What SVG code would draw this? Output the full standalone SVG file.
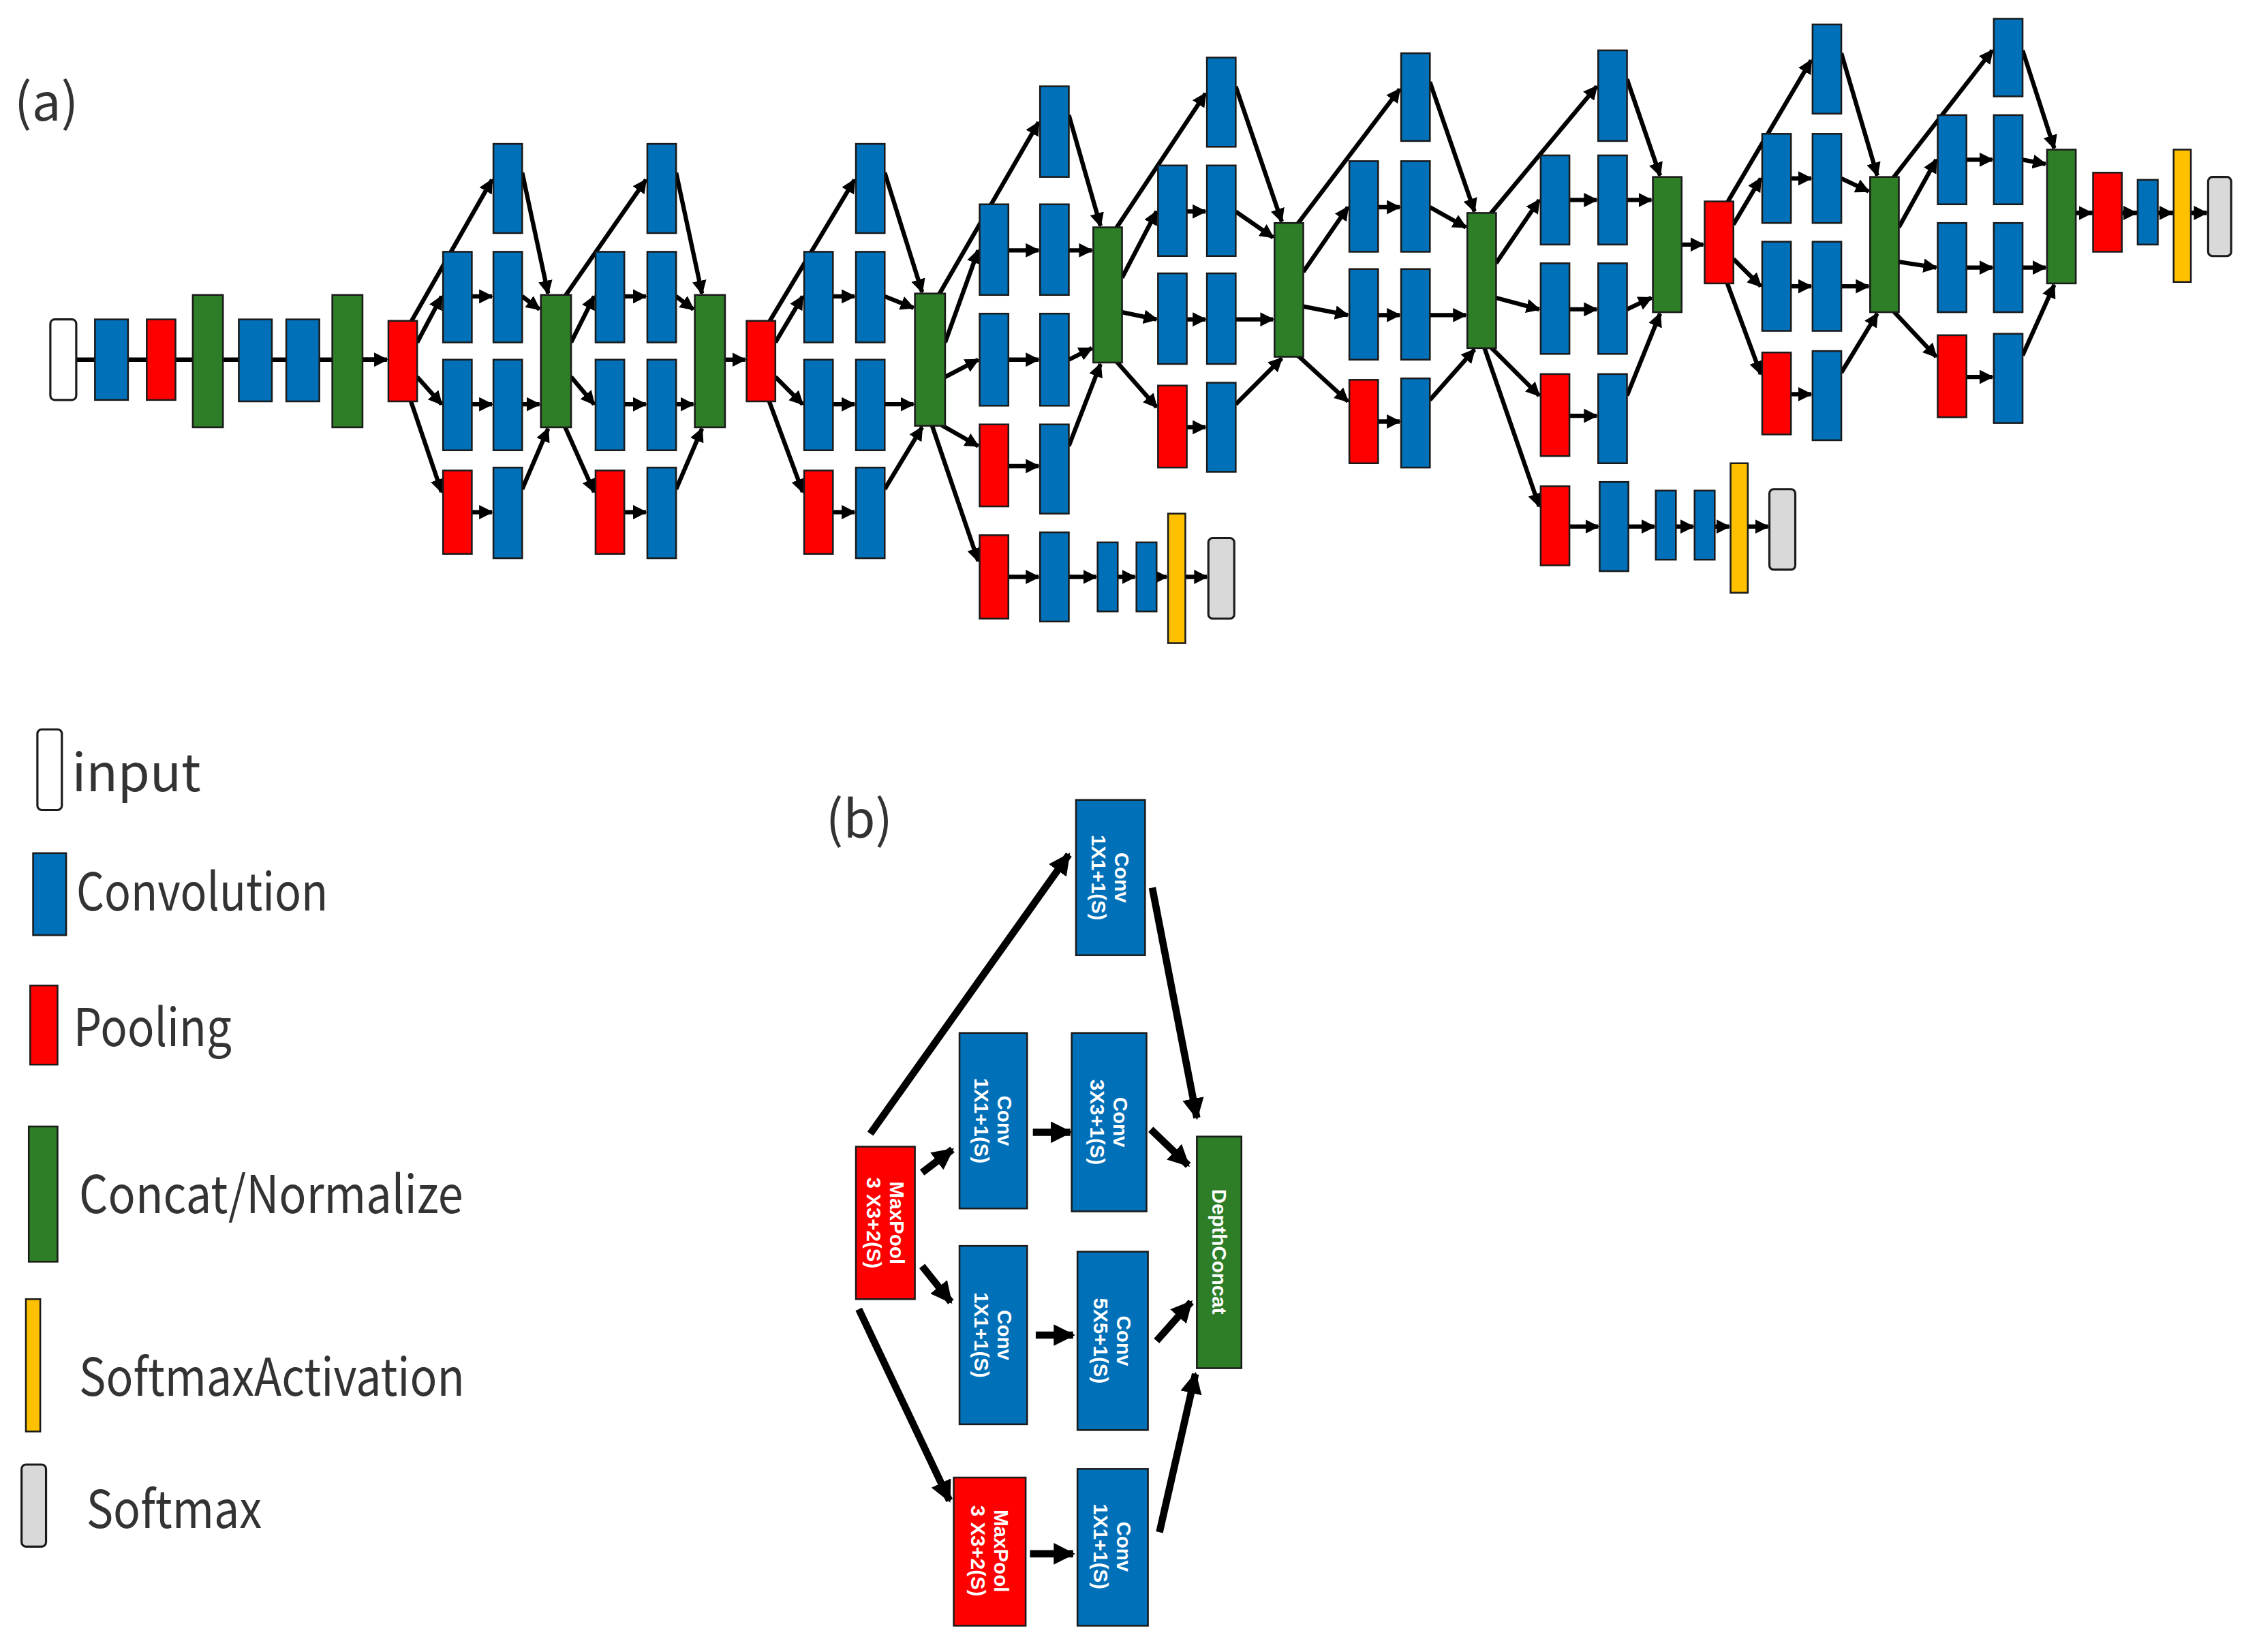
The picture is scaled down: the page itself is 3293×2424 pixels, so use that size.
<svg xmlns="http://www.w3.org/2000/svg" width="3293" height="2424" viewBox="0 0 3293 2424">
<defs>
<marker id="ah" viewBox="0 0 10 10" refX="9" refY="5" markerWidth="3.3" markerHeight="3.3" orient="auto" markerUnits="strokeWidth"><path d="M0,0 L10,5 L0,10 z" fill="#000"/></marker>
<marker id="ahb" viewBox="0 0 10 10" refX="9" refY="5" markerWidth="3" markerHeight="3" orient="auto" markerUnits="strokeWidth"><path d="M0,0 L10,5 L0,10 z" fill="#000"/></marker>
</defs>
<style>
.b{fill:#0070b8;stroke:#1a1a1a;stroke-width:1.2}
.r{fill:#ff0000;stroke:#1a1a1a;stroke-width:1.2}
.g{fill:#2e7d27;stroke:#1a1a1a;stroke-width:1.2}
.y{fill:#ffc000;stroke:#1a1a1a;stroke-width:1.2}
.s{fill:#d9d9d9;stroke:#1a1a1a;stroke-width:1.5}
.w{fill:#fff;stroke:#1a1a1a;stroke-width:1.5}
.c path{fill:none;stroke:#000;stroke-width:3;marker-end:url(#ah)}
.c path.n{marker-end:none}
.cb path{fill:none;stroke:#000;stroke-width:5;marker-end:url(#ahb)}
.lt{font-family:"Noto Sans CJK JP","Liberation Sans",sans-serif;font-size:36px;fill:#333}
.bt{font-family:"Liberation Sans",sans-serif;font-weight:bold;font-size:14px;fill:#fff;text-anchor:middle}
</style>
<rect width="3293" height="2424" fill="#fff"/>
<g transform="scale(2.111)">
<text class="lt" x="10" y="84">(a)</text>
<g id="connectors-a" class="c">
<path class="n" d="M53,250 H260"/><path d="M252,250 H269"/>
<path d="M504,250 H518"/>
<path d="M1169,170 H1184"/>
<path class="n" d="M1443,148 H1534"/><path d="M1443,148 H1454"/><path d="M1475,148 H1485"/><path d="M1500,148 H1510"/><path d="M1523,148 H1534"/>
<path d="M648,296 L680,390"/>
<path d="M701,401 H722"/><path d="M743,401 H762"/><path d="M777,401 H789"/><path d="M804,401 H811"/><path d="M824,401 H839"/>
<path d="M1032,242 L1070,352"/>
<path d="M1091,366 H1111"/><path d="M1132,366 H1150"/><path d="M1165,366 H1177"/><path d="M1192,366 H1202"/><path d="M1215,366 H1229"/>
<!-- B1 -->
<path d="M285,225 L342,125"/><path d="M290,238 L307,206"/><path d="M290,262 L307,281"/><path d="M285,277 L307,342"/>
<path d="M328,206 H342"/><path d="M328,281 H342"/><path d="M328,356 H342"/>
<path d="M363,120 L381,204"/><path d="M363,206 L375,215"/><path d="M363,281 H375"/><path d="M363,340 L381,298"/>
<!-- B2 -->
<path d="M392,207 L449,125"/><path d="M397,238 L413,206"/><path d="M397,262 L413,281"/><path d="M392,295 L413,342"/>
<path d="M434,206 H449"/><path d="M434,281 H449"/><path d="M434,356 H449"/>
<path d="M470,120 L488,204"/><path d="M470,206 L482,215"/><path d="M470,281 H482"/><path d="M470,340 L488,298"/>
<!-- B3 -->
<path d="M534,225 L594,125"/><path d="M539,238 L558,206"/><path d="M539,262 L558,281"/><path d="M534,277 L558,342"/>
<path d="M579,206 H594"/><path d="M579,281 H594"/><path d="M579,356 H594"/>
<path d="M615,120 L641,203"/><path d="M615,206 L635,214"/><path d="M615,281 H635"/><path d="M615,340 L641,297"/>
<!-- B4 -->
<path d="M652,206 L722,85"/><path d="M657,238 L680,174"/><path d="M657,262 L680,250"/><path d="M652,294 L680,310"/>
<path d="M701,174 H722"/><path d="M701,250 H722"/><path d="M701,324 H722"/>
<path d="M743,80 L765,157"/><path d="M743,174 H759"/><path d="M743,250 L759,242"/><path d="M743,310 L765,253"/>
<!-- B5 -->
<path d="M775,160 L838,65"/><path d="M780,193 L804,147"/><path d="M780,217 L804,222"/><path d="M775,250 L804,283"/>
<path d="M825,147 H838"/><path d="M825,222 H838"/><path d="M825,297 H838"/>
<path d="M859,60 L891,154"/><path d="M859,147 L885,165"/><path d="M859,222 H885"/><path d="M859,281 L891,249"/>
<!-- B6 -->
<path d="M901,157 L973,62"/><path d="M906,189 L937,144"/><path d="M906,213 L937,219"/><path d="M901,246 L937,279"/>
<path d="M958,144 H973"/><path d="M958,219 H973"/><path d="M958,293 H973"/>
<path d="M994,57 L1025,147"/><path d="M994,144 L1019,158"/><path d="M994,219 H1019"/><path d="M994,278 L1025,243"/>
<!-- B7 -->
<path d="M1035,150 L1110,60"/><path d="M1040,183 L1070,139"/><path d="M1040,207 L1070,215"/><path d="M1035,240 L1070,275"/>
<path d="M1091,139 H1110"/><path d="M1091,215 H1110"/><path d="M1091,289 H1110"/>
<path d="M1131,55 L1154,122"/><path d="M1131,139 H1148"/><path d="M1131,215 L1148,207"/><path d="M1131,275 L1154,218"/>
<!-- B8 -->
<path d="M1200,142 L1259,42"/><path d="M1205,156 L1224,124"/><path d="M1205,180 L1224,199"/><path d="M1200,195 L1224,260"/>
<path d="M1245,124 H1259"/><path d="M1245,199 H1259"/><path d="M1245,274 H1259"/>
<path d="M1280,37 L1305,122"/><path d="M1280,124 L1299,133"/><path d="M1280,199 H1299"/><path d="M1280,259 L1305,218"/>
<!-- B9 -->
<path d="M1315,125 L1385,35"/><path d="M1320,158 L1346,111"/><path d="M1320,182 L1346,186"/><path d="M1315,215 L1346,248"/>
<path d="M1367,111 H1385"/><path d="M1367,186 H1385"/><path d="M1367,262 H1385"/>
<path d="M1406,35 L1428,103"/><path d="M1406,111 L1422,114"/><path d="M1406,186 H1422"/><path d="M1406,247 L1428,198"/>
</g>
<g id="stem">
<rect class="w" x="35" y="222" width="18" height="56" rx="3"/>
<rect class="b" x="66" y="222" width="23" height="56"/>
<rect class="r" x="102" y="222" width="20" height="56"/>
<rect class="g" x="134" y="205" width="21" height="92"/>
<rect class="b" x="166" y="222" width="23" height="57"/>
<rect class="b" x="199" y="222" width="23" height="57"/>
<rect class="g" x="231" y="205" width="21" height="92"/>
<rect class="r" x="270" y="223" width="20" height="56"/>
</g>
<g id="inception-3a">
<rect class="b" x="343" y="100" width="20" height="62"/>
<rect class="b" x="308" y="175" width="20" height="63"/><rect class="b" x="343" y="175" width="20" height="63"/>
<rect class="b" x="308" y="250" width="20" height="63"/><rect class="b" x="343" y="250" width="20" height="63"/>
<rect class="r" x="308" y="327" width="20" height="58"/><rect class="b" x="343" y="325" width="20" height="63"/>
<rect class="g" x="376" y="205" width="21" height="92"/>
</g>
<g id="inception-3b">
<rect class="b" x="450" y="100" width="20" height="62"/>
<rect class="b" x="414" y="175" width="20" height="63"/><rect class="b" x="450" y="175" width="20" height="63"/>
<rect class="b" x="414" y="250" width="20" height="63"/><rect class="b" x="450" y="250" width="20" height="63"/>
<rect class="r" x="414" y="327" width="20" height="58"/><rect class="b" x="450" y="325" width="20" height="63"/>
<rect class="g" x="483" y="205" width="21" height="92"/>
</g>
<g id="pool-3"><rect class="r" x="519" y="223" width="20" height="56"/></g>
<g id="inception-4a">
<rect class="b" x="595" y="100" width="20" height="62"/>
<rect class="b" x="559" y="175" width="20" height="63"/><rect class="b" x="595" y="175" width="20" height="63"/>
<rect class="b" x="559" y="250" width="20" height="63"/><rect class="b" x="595" y="250" width="20" height="63"/>
<rect class="r" x="559" y="327" width="20" height="58"/><rect class="b" x="595" y="325" width="20" height="63"/>
<rect class="g" x="636" y="204" width="21" height="92"/>
</g>
<g id="aux-1">
<rect class="r" x="681" y="372" width="20" height="58"/>
<rect class="b" x="723" y="370" width="20" height="62"/>
<rect class="b" x="763" y="377" width="14" height="48"/>
<rect class="b" x="790" y="377" width="14" height="48"/>
<rect class="y" x="812" y="357" width="12" height="90"/>
<rect class="s" x="840" y="374" width="18" height="56" rx="3"/>
</g>
<g id="inception-4b">
<rect class="b" x="723" y="60" width="20" height="63"/>
<rect class="b" x="681" y="142" width="20" height="63"/><rect class="b" x="723" y="142" width="20" height="63"/>
<rect class="b" x="681" y="218" width="20" height="64"/><rect class="b" x="723" y="218" width="20" height="64"/>
<rect class="r" x="681" y="295" width="20" height="57"/><rect class="b" x="723" y="295" width="20" height="62"/>
<rect class="g" x="760" y="158" width="20" height="94"/>
</g>
<g id="inception-4c">
<rect class="b" x="839" y="40" width="20" height="62"/>
<rect class="b" x="805" y="115" width="20" height="63"/><rect class="b" x="839" y="115" width="20" height="63"/>
<rect class="b" x="805" y="190" width="20" height="63"/><rect class="b" x="839" y="190" width="20" height="63"/>
<rect class="r" x="805" y="268" width="20" height="57"/><rect class="b" x="839" y="266" width="20" height="62"/>
<rect class="g" x="886" y="155" width="20" height="93"/>
</g>
<g id="inception-4d">
<rect class="b" x="974" y="37" width="20" height="61"/>
<rect class="b" x="938" y="112" width="20" height="63"/><rect class="b" x="974" y="112" width="20" height="63"/>
<rect class="b" x="938" y="187" width="20" height="63"/><rect class="b" x="974" y="187" width="20" height="63"/>
<rect class="r" x="938" y="264" width="20" height="58"/><rect class="b" x="974" y="263" width="20" height="62"/>
<rect class="g" x="1020" y="148" width="20" height="94"/>
</g>
<g id="aux-2">
<rect class="r" x="1071" y="338" width="20" height="55"/>
<rect class="b" x="1112" y="335" width="20" height="62"/>
<rect class="b" x="1151" y="341" width="14" height="48"/>
<rect class="b" x="1178" y="341" width="14" height="48"/>
<rect class="y" x="1203" y="322" width="12" height="90"/>
<rect class="s" x="1230" y="340" width="18" height="56" rx="3"/>
</g>
<g id="inception-4e">
<rect class="b" x="1111" y="35" width="20" height="63"/>
<rect class="b" x="1071" y="108" width="20" height="62"/><rect class="b" x="1111" y="108" width="20" height="62"/>
<rect class="b" x="1071" y="183" width="20" height="63"/><rect class="b" x="1111" y="183" width="20" height="63"/>
<rect class="r" x="1071" y="260" width="20" height="57"/><rect class="b" x="1111" y="260" width="20" height="62"/>
<rect class="g" x="1149" y="123" width="20" height="94"/>
</g>
<g id="pool-4"><rect class="r" x="1185" y="140" width="20" height="57"/></g>
<g id="inception-5a">
<rect class="b" x="1260" y="17" width="20" height="62"/>
<rect class="b" x="1225" y="93" width="20" height="62"/><rect class="b" x="1260" y="93" width="20" height="62"/>
<rect class="b" x="1225" y="168" width="20" height="62"/><rect class="b" x="1260" y="168" width="20" height="62"/>
<rect class="r" x="1225" y="245" width="20" height="57"/><rect class="b" x="1260" y="244" width="20" height="62"/>
<rect class="g" x="1300" y="123" width="20" height="94"/>
</g>
<g id="inception-5b">
<rect class="b" x="1386" y="13" width="20" height="54"/>
<rect class="b" x="1347" y="80" width="20" height="62"/><rect class="b" x="1386" y="80" width="20" height="62"/>
<rect class="b" x="1347" y="155" width="20" height="62"/><rect class="b" x="1386" y="155" width="20" height="62"/>
<rect class="r" x="1347" y="233" width="20" height="57"/><rect class="b" x="1386" y="232" width="20" height="62"/>
<rect class="g" x="1423" y="104" width="20" height="93"/>
</g>
<g id="head">
<rect class="r" x="1455" y="120" width="20" height="55"/>
<rect class="b" x="1486" y="125" width="14" height="45"/>
<rect class="y" x="1511" y="104" width="12" height="92"/>
<rect class="s" x="1535" y="123" width="16" height="55" rx="3"/>
</g>
<g id="legend">
<rect class="w" x="26" y="507" width="17" height="56" rx="3"/><text class="lt" x="50" y="550">input</text>
<rect class="b" x="23" y="593" width="23" height="57"/><text class="lt" x="53" y="633" textLength="175" lengthAdjust="spacingAndGlyphs">Convolution</text>
<rect class="r" x="21" y="685" width="19" height="55"/><text class="lt" x="51" y="727" textLength="110" lengthAdjust="spacingAndGlyphs">Pooling</text>
<rect class="g" x="20" y="783" width="20" height="94"/><text class="lt" x="55" y="843" textLength="267" lengthAdjust="spacingAndGlyphs">Concat/Normalize</text>
<rect class="y" x="18" y="903" width="10" height="92"/><text class="lt" x="55" y="970" textLength="268" lengthAdjust="spacingAndGlyphs">SoftmaxActivation</text>
<rect class="s" x="15" y="1018" width="17" height="57" rx="3"/><text class="lt" x="60" y="1062" textLength="122" lengthAdjust="spacingAndGlyphs">Softmax</text>
</g>
<text class="lt" x="574" y="582">(b)</text>
<g id="connectors-b" class="cb">
<path d="M605,788 L743,594"/>
<path d="M641,815 L662,799"/>
<path d="M641,880 L661,905"/>
<path d="M597,910 L660,1043"/>
<path d="M718,787 H744"/><path d="M720,928 H746"/><path d="M716,1080 H746"/>
<path d="M801,617 L832,777"/>
<path d="M800,785 L826,810"/>
<path d="M804,932 L828,905"/>
<path d="M806,1065 L831,955"/>
</g>
<g id="b-nodes">
<g id="b-pool1"><rect class="r" x="595" y="797" width="41" height="106"/><text class="bt" transform="translate(615.5,850) rotate(90)"><tspan x="0" y="-3">MaxPool</tspan><tspan x="0" y="13">3 X3+2(S)</tspan></text></g>
<g id="b-conv1"><rect class="b" x="748" y="556" width="48" height="108"/><text class="bt" transform="translate(772,610) rotate(90)"><tspan x="0" y="-3">Conv</tspan><tspan x="0" y="13">1X1+1(S)</tspan></text></g>
<g id="b-conv2"><rect class="b" x="667" y="718" width="47" height="122"/><text class="bt" transform="translate(690.5,779) rotate(90)"><tspan x="0" y="-3">Conv</tspan><tspan x="0" y="13">1X1+1(S)</tspan></text></g>
<g id="b-conv3"><rect class="b" x="745" y="718" width="52" height="124"/><text class="bt" transform="translate(771,780) rotate(90)"><tspan x="0" y="-3">Conv</tspan><tspan x="0" y="13">3X3+1(S)</tspan></text></g>
<g id="b-conv4"><rect class="b" x="667" y="866" width="47" height="124"/><text class="bt" transform="translate(690.5,928) rotate(90)"><tspan x="0" y="-3">Conv</tspan><tspan x="0" y="13">1X1+1(S)</tspan></text></g>
<g id="b-conv5"><rect class="b" x="749" y="870" width="49" height="124"/><text class="bt" transform="translate(773.5,932) rotate(90)"><tspan x="0" y="-3">Conv</tspan><tspan x="0" y="13">5X5+1(S)</tspan></text></g>
<g id="b-pool2"><rect class="r" x="663" y="1027" width="50" height="103"/><text class="bt" transform="translate(688,1078) rotate(90)"><tspan x="0" y="-3">MaxPool</tspan><tspan x="0" y="13">3 X3+2(S)</tspan></text></g>
<g id="b-conv6"><rect class="b" x="749" y="1021" width="49" height="109"/><text class="bt" transform="translate(773.5,1075) rotate(90)"><tspan x="0" y="-3">Conv</tspan><tspan x="0" y="13">1X1+1(S)</tspan></text></g>
<g id="b-concat"><rect class="g" x="832" y="790" width="31" height="161"/><text class="bt" fill="#e6f2e0" transform="translate(847.5,870) rotate(90)" y="5">DepthConcat</text></g>
</g>
</g>
</svg>
